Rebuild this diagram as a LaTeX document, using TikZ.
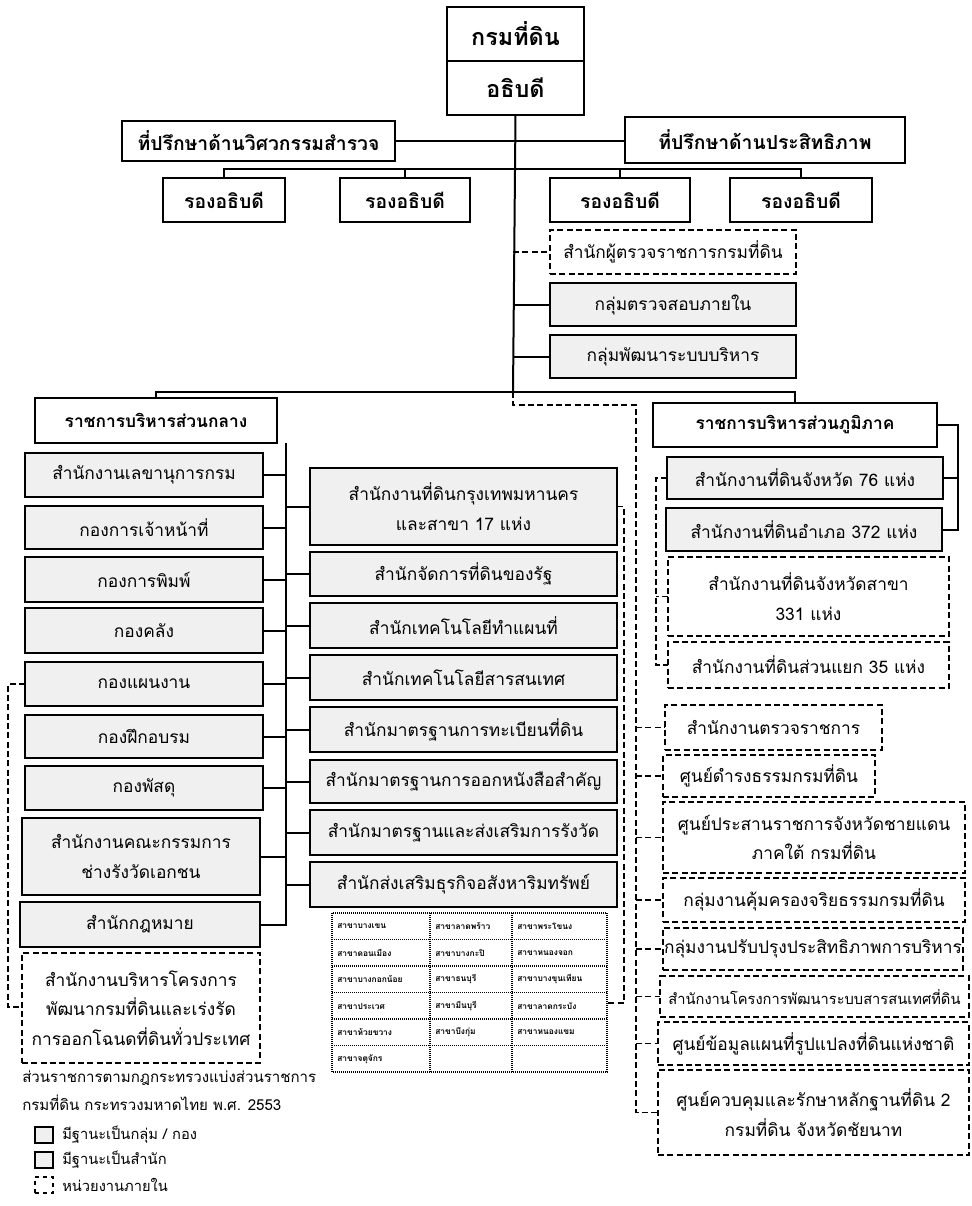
\documentclass[tikz,border=0pt]{standalone}
\usepackage{fontspec}
\setmainfont[Script=Thai]{Loma}
\usetikzlibrary{calc}
\definecolor{boxgray}{HTML}{F0F0F0}
\newcommand{\bx}[7]{\node[#2, minimum width={(#5-#3)*0.75pt}, minimum height={(#6-#4)*0.75pt}] (#1) at ({(#3+#5)/2},{(#4+#6)/2}) {#7};}
\tikzset{
  base/.style={draw, inner sep=0pt, outer sep=0pt, align=center, font=\fontsize{13}{22}\selectfont},
  topb/.style={base, line width=2.2pt, fill=white, font=\bfseries\fontsize{17.5}{22}\selectfont},
  advb/.style={base, line width=2.2pt, fill=white, font=\bfseries\fontsize{13}{20}\selectfont},
  advc/.style={advb, font=\bfseries\fontsize{14.5}{20}\selectfont},
  grp/.style={base, line width=1.6pt, fill=boxgray},
  off/.style={base, line width=2.2pt, fill=boxgray},
  dbox/.style={base, line width=1.5pt, dash pattern=on 4.5pt off 2.5pt, fill=white},
  conn/.style={line width=1.5pt},
  dconn/.style={line width=1.4pt, dash pattern=on 4.5pt off 2.5pt},
  tcell/.style={inner sep=0pt, anchor=west, font=\bfseries\fontsize{6.3}{8}\selectfont},
  tline/.style={line width=0.9pt, dash pattern=on 0.7pt off 0.8pt},
  lgtext/.style={inner sep=0pt, anchor=west, font=\fontsize{11}{14}\selectfont},
}
\begin{document}
\begin{tikzpicture}[x=0.75pt, y=-0.75pt]
\useasboundingbox (0,0) rectangle (971,1206);
\fill[white] (0,0) rectangle (971,1206);

% ---------- top ----------
\bx{top1}{topb}{447}{7}{584}{61}{กรมที่ดิน}
\bx{top2}{topb}{447}{61}{584}{115}{อธิบดี}
\bx{advL}{advc}{122}{121}{395}{161}{ที่ปรึกษาด้านวิศวกรรมสำรวจ}
\bx{advR}{advc}{625}{117}{905}{163}{ที่ปรึกษาด้านประสิทธิภาพ}
\bx{dep1}{advc}{163}{178}{285}{222}{รองอธิบดี}
\bx{dep2}{advc}{340}{178}{470}{222}{รองอธิบดี}
\bx{dep3}{advc}{550}{178}{690}{222}{รองอธิบดี}
\bx{dep4}{advc}{730}{178}{872}{222}{รองอธิบดี}
\bx{insp}{dbox}{550}{230}{796}{274}{สำนักผู้ตรวจราชการกรมที่ดิน}
\bx{audit}{grp}{550}{283}{796}{326}{กลุ่มตรวจสอบภายใน}
\bx{pmdg}{grp}{550}{335}{796}{378}{กลุ่มพัฒนาระบบบริหาร}
\bx{central}{advb}{35}{398}{277}{443}{ราชการบริหารส่วนกลาง}
\bx{regional}{advb}{653}{403}{937}{447}{ราชการบริหารส่วนภูมิภาค}

\coordinate (tr) at (513,392);
\coordinate (dbus) at (513,169);
\coordinate (dj) at (636,405);
\draw[conn] (top2.south) -- (tr);
\draw[conn] (advL.east) -- (advL.east -| advR.west);
\draw[conn] (dep1.north) |- (dbus) -| (dep4.north);
\draw[conn] (dep2.north) -- (dep2.north |- dbus);
\draw[conn] (dep3.north) -- (dep3.north |- dbus);
\draw[dconn] (insp.west -| tr) -- (insp.west);
\draw[conn] (audit.west -| tr) -- (audit.west);
\draw[conn] (pmdg.west -| tr) -- (pmdg.west);
\draw[conn] (central.north) |- (tr) -| (regional.north);

% ---------- left column ----------
\bx{sec}{off}{25}{453}{263}{497}{สำนักงานเลขานุการกรม}
\bx{pers}{grp}{25}{506}{263}{549}{กองการเจ้าหน้าที่}
\bx{print}{grp}{25}{557}{263}{602}{กองการพิมพ์}
\bx{fin}{grp}{25}{608}{263}{653}{กองคลัง}
\bx{plan}{grp}{25}{662}{263}{706}{กองแผนงาน}
\bx{train}{grp}{25}{715}{263}{758}{กองฝึกอบรม}
\bx{supp}{grp}{25}{766}{263}{810}{กองพัสดุ}
\bx{surv}{off}{22}{818}{260}{895}{สำนักงานคณะกรรมการ\\ช่างรังวัดเอกชน}
\bx{law}{off}{20}{902}{260}{947}{สำนักกฎหมาย}
\bx{proj}{dbox}{22}{953}{260}{1063}{สำนักงานบริหารโครงการ\\พัฒนากรมที่ดินและเร่งรัด\\การออกโฉนดที่ดินทั่วประเทศ}

% ---------- middle column ----------
\bx{bkk}{off}{310}{468}{617}{545}{สำนักงานที่ดินกรุงเทพมหานคร\\และสาขา 17 แห่ง}
\bx{state}{off}{310}{552}{617}{596}{สำนักจัดการที่ดินของรัฐ}
\bx{map}{off}{310}{603}{617}{648}{สำนักเทคโนโลยีทำแผนที่}
\bx{ict}{off}{310}{655}{617}{700}{สำนักเทคโนโลยีสารสนเทศ}
\bx{reg}{off}{310}{707}{617}{752}{สำนักมาตรฐานการทะเบียนที่ดิน}
\bx{deed}{off}{310}{760}{617}{803}{สำนักมาตรฐานการออกหนังสือสำคัญ}
\bx{std}{off}{310}{810}{617}{855}{สำนักมาตรฐานและส่งเสริมการรังวัด}
\bx{real}{off}{310}{862}{617}{907}{สำนักส่งเสริมธุรกิจอสังหาริมทรัพย์}

\coordinate (ls) at (286,443);
\draw[conn] (central.south -| ls) -- (law.east -| ls) -- (law.east);
\foreach \n in {sec,pers,print,fin,plan,train,supp,surv}
  \draw[conn] (\n.east) -- (\n.east -| ls);
\foreach \n in {bkk,state,map,ict,reg,deed,std,real}
  \draw[conn] (\n.west -| ls) -- (\n.west);
\draw[dconn] (plan.west) -- ++(-17,0) |- (proj.west |- 0,1007);

% ---------- table ----------
\draw[tline] (332,913) rectangle (607,1072);
\foreach \yy in {939.5,966,992.5,1019,1045.5} \draw[tline] (332,\yy) -- (607,\yy);
\draw[tline] (430,913) -- (430,1072);
\draw[tline] (512,913) -- (512,1072);
\node[tcell] (b11) at (337,926) {สาขาบางเขน};
\node[tcell] (b21) at (337,953) {สาขาดอนเมือง};
\node[tcell] (b31) at (337,979) {สาขาบางกอกน้อย};
\node[tcell] (b41) at (337,1006) {สาขาประเวศ};
\node[tcell] (b51) at (337,1032) {สาขาห้วยขวาง};
\node[tcell] (b61) at (337,1059) {สาขาจตุจักร};
\node[tcell] (b12) at (435,926) {สาขาลาดพร้าว};
\node[tcell] (b22) at (435,953) {สาขาบางกะปิ};
\node[tcell] (b32) at (435,979) {สาขาธนบุรี};
\node[tcell] (b42) at (435,1006) {สาขามีนบุรี};
\node[tcell] (b52) at (435,1032) {สาขาบึงกุ่ม};
\node[tcell] (b13) at (517,926) {สาขาพระโขนง};
\node[tcell] (b23) at (517,953) {สาขาหนองจอก};
\node[tcell] (b33) at (517,979) {สาขาบางขุนเทียน};
\node[tcell] (b43) at (517,1006) {สาขาลาดกระบัง};
\node[tcell] (b53) at (517,1032) {สาขาหนองแขม};
\coordinate (tabR) at (607,1003);
\draw[dconn] (bkk.east) -- ++(7,0) |- (tabR);

% ---------- right column ----------
\bx{p76}{off}{667}{457}{943}{499}{สำนักงานที่ดินจังหวัด 76 แห่ง}
\bx{p372}{off}{666}{508}{942}{551}{สำนักงานที่ดินอำเภอ 372 แห่ง}
\bx{p331}{dbox}{668}{557}{949}{636}{สำนักงานที่ดินจังหวัดสาขา\\331 แห่ง}
\bx{p35}{dbox}{668}{642}{949}{688}{สำนักงานที่ดินส่วนแยก 35 แห่ง}
\draw[conn] (regional.east) -- ++(21,0) |- (p372.east);
\draw[conn] (p76.east) -- (p76.east -| 958,0);
\draw[dconn] (p76.west) -- ++(-11,0) |- (p35.west);
\draw[dconn] (p331.west) -- (p331.west -| 656,0);

\bx{r1}{dbox}{665}{705}{882}{750}{สำนักงานตรวจราชการ}
\bx{r2}{dbox}{663}{755}{875}{797}{ศูนย์ดำรงธรรมกรมที่ดิน}
\bx{r3}{dbox}{663}{802}{965}{873}{ศูนย์ประสานราชการจังหวัดชายแดน\\ภาคใต้ กรมที่ดิน}
\bx{r4}{dbox}{663}{878}{965}{922}{กลุ่มงานคุ้มครองจริยธรรมกรมที่ดิน}
\bx{r5}{dbox}{663}{928}{963}{970}{กลุ่มงานปรับปรุงประสิทธิภาพการบริหาร}
\bx{r6}{dbox}{660}{976}{969}{1017}{\fontsize{11}{14}\selectfont สำนักงานโครงการพัฒนาระบบสารสนเทศที่ดิน}
\bx{r7}{dbox}{658}{1022}{969}{1065}{ศูนย์ข้อมูลแผนที่รูปแปลงที่ดินแห่งชาติ}
\bx{r8}{dbox}{658}{1070}{969}{1155}{ศูนย์ควบคุมและรักษาหลักฐานที่ดิน 2\\กรมที่ดิน จังหวัดชัยนาท}
\draw[dconn] (tr) -- (tr |- dj) -- (dj) |- (r8.west);
\foreach \n in {r1,r2,r3,r4,r5,r6,r7}
  \draw[dconn] (\n.west -| dj) -- (\n.west);

% ---------- caption & legend ----------
\node[lgtext, font=\fontsize{11.3}{15}\selectfont] (cap1) at (22,1078) {ส่วนราชการตามกฎกระทรวงแบ่งส่วนราชการ};
\node[lgtext, font=\fontsize{11.3}{15}\selectfont] (cap2) at (22,1103) {กรมที่ดิน กระทรวงมหาดไทย พ.ศ. 2553};
\node[grp, minimum width=13.5pt, minimum height=12pt] (lg1) at (44,1135) {};
\node[off, minimum width=13.5pt, minimum height=12pt] (lg2) at (44,1160) {};
\node[dbox, dash pattern=on 3pt off 3pt, minimum width=13.5pt, minimum height=12pt] (lg3) at (44,1185) {};
\node[lgtext] (lt1) at (62,1135) {มีฐานะเป็นกลุ่ม / กอง};
\node[lgtext] (lt2) at (62,1160) {มีฐานะเป็นสำนัก};
\node[lgtext] (lt3) at (62,1185) {หน่วยงานภายใน};
\end{tikzpicture}
\end{document}
